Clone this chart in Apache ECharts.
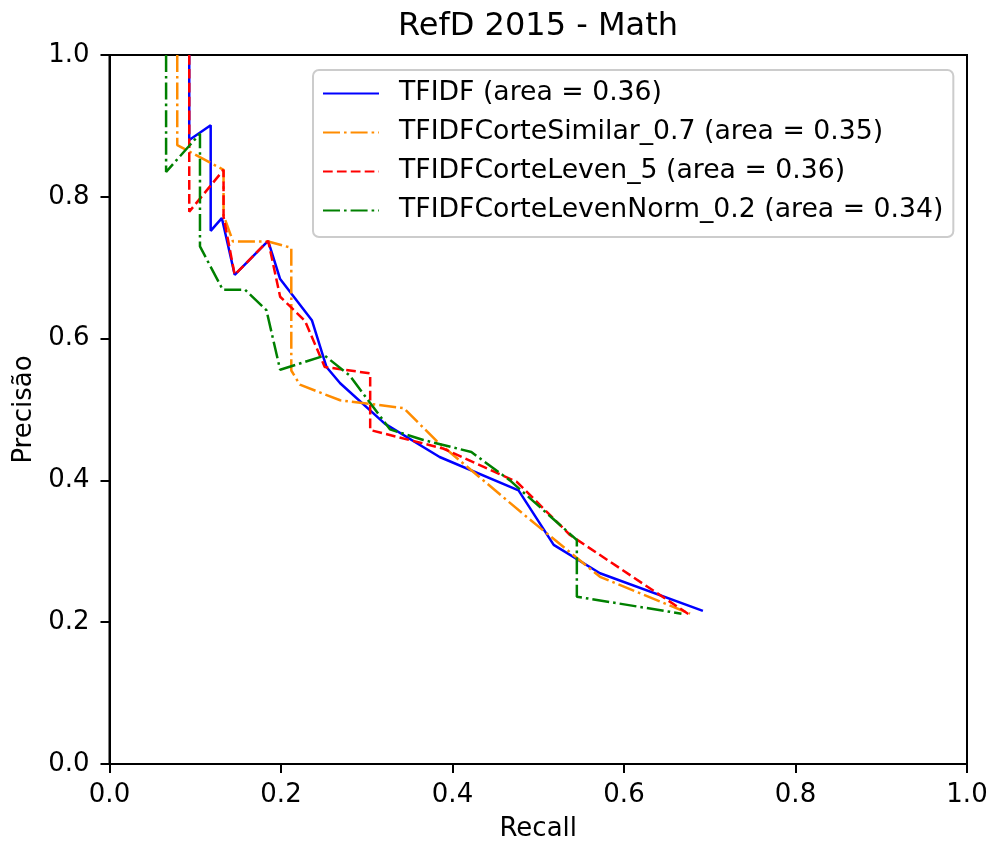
<!DOCTYPE html>
<html>
<head>
  <meta charset="utf-8">
  <title>RefD 2015 - Math</title>
  <script src="https://cdn.jsdelivr.net/npm/echarts/dist/echarts.min.js"></script>
  <style>
    html, body { margin: 0; padding: 0; background: #ffffff; }
    #chart { width: 991px; height: 843px; }
  </style>
</head>
<body>
<div id="chart"></div>
<script>
  // 曲线数据 (recall, precisão)
  var tfidfRecall = [0.093, 0.093, 0.118, 0.118, 0.131, 0.146, 0.185, 0.199, 0.236, 0.253, 0.269, 0.321, 0.385, 0.477, 0.518, 0.572, 0.692];
  var tfidfPrec   = [1.0, 0.880, 0.901, 0.752, 0.770, 0.690, 0.738, 0.684, 0.626, 0.560, 0.537, 0.480, 0.433, 0.386, 0.309, 0.269, 0.216];

  var similarRecall = [0.079, 0.079, 0.133, 0.133, 0.144, 0.185, 0.212, 0.212, 0.222, 0.269, 0.343, 0.382, 0.486, 0.572, 0.677];
  var similarPrec   = [1.0, 0.873, 0.838, 0.774, 0.737, 0.737, 0.728, 0.555, 0.535, 0.513, 0.502, 0.455, 0.349, 0.264, 0.212];

  var levenRecall = [0.093, 0.093, 0.133, 0.133, 0.146, 0.185, 0.199, 0.211, 0.228, 0.251, 0.304, 0.304, 0.389, 0.475, 0.537, 0.677];
  var levenPrec   = [1.0, 0.779, 0.838, 0.772, 0.690, 0.738, 0.659, 0.645, 0.625, 0.560, 0.551, 0.471, 0.445, 0.398, 0.323, 0.210];

  var normRecall = [0.066, 0.066, 0.1055, 0.1055, 0.132, 0.158, 0.183, 0.199, 0.251, 0.280, 0.327, 0.366, 0.422, 0.467, 0.545, 0.545, 0.667];
  var normPrec   = [1.0, 0.835, 0.889, 0.730, 0.669, 0.669, 0.640, 0.556, 0.576, 0.548, 0.472, 0.457, 0.440, 0.400, 0.316, 0.236, 0.212];

  var seriesNames = [
    'TFIDF (area = 0.36)',
    'TFIDFCorteSimilar_0.7 (area = 0.35)',
    'TFIDFCorteLeven_5 (area = 0.36)',
    'TFIDFCorteLevenNorm_0.2 (area = 0.34)'
  ];
  var tickValues = [0.0, 0.2, 0.4, 0.6, 0.8, 1.0];

  function pairs(xs, ys) {
    var out = [];
    for (var i = 0; i < xs.length; i++) out.push([xs[i], ys[i]]);
    return out;
  }

  var font = 'DejaVu Sans';
  var chart = echarts.init(document.getElementById('chart'));

  function makeAxis(name, gap) {
    return {
      type: 'value',
      min: tickValues[0],
      max: tickValues[tickValues.length - 1],
      interval: 0.2,
      name: name,
      nameLocation: 'middle',
      nameGap: gap,
      nameTextStyle: { fontFamily: font, fontSize: 26, color: '#000' },
      axisLine: { show: true, lineStyle: { color: '#000', width: 2 } },
      axisTick: { show: true, inside: false, length: 9, lineStyle: { color: '#000', width: 2 } },
      axisLabel: {
        fontFamily: font, fontSize: 26, color: '#000', margin: 18,
        formatter: function (v) { return v.toFixed(1); }
      },
      splitLine: { show: false }
    };
  }

  function lineSeries(idx, xs, ys, color, dash) {
    return {
      name: seriesNames[idx],
      type: 'line',
      data: pairs(xs, ys),
      symbol: 'none',
      showSymbol: false,
      animation: false,
      lineStyle: { color: color, width: 2.5, type: dash },
      itemStyle: { color: color }
    };
  }

  var yAxis = makeAxis('Precisão', 72);
  yAxis.axisLabel.margin = 20;

  var option = {
    animation: false,
    grid: {
      left: 109.5, right: 24, top: 55, bottom: 79,
      outerBoundsMode: 'none',
      show: true, borderColor: '#000', borderWidth: 2
    },
    graphic: [{
      type: 'text',
      x: 538, y: 27,
      style: {
        text: 'RefD 2015 - Math',
        fontFamily: font, fontSize: 32, fill: '#000',
        textAlign: 'center', textVerticalAlign: 'middle'
      }
    }],
    legend: {
      orient: 'vertical',
      left: 313, top: 70,
      padding: [10, 10, 13, 9],
      itemGap: 12,
      itemWidth: 56,
      itemHeight: 14,
      itemStyle: { opacity: 0 },
      backgroundColor: 'rgba(255,255,255,0.8)',
      borderColor: '#cccccc',
      borderWidth: 2,
      borderRadius: 6,
      textStyle: { fontFamily: font, fontSize: 26.7, color: '#000', padding: [0, 0, 0, 15] },
      data: seriesNames
    },
    xAxis: makeAxis('Recall', 52),
    yAxis: yAxis,
    series: [
      lineSeries(0, tfidfRecall, tfidfPrec, '#0000ff', 'solid'),
      lineSeries(1, similarRecall, similarPrec, '#ff8c00', [17, 4, 2.6, 4]),
      lineSeries(2, levenRecall, levenPrec, '#ff0000', [9.7, 4.2]),
      lineSeries(3, normRecall, normPrec, '#008000', [17, 4, 2.6, 4])
    ]
  };

  option && chart.setOption(option);

  window.onresize = function () {
    chart.resize();
  };
</script>
</body>
</html>
